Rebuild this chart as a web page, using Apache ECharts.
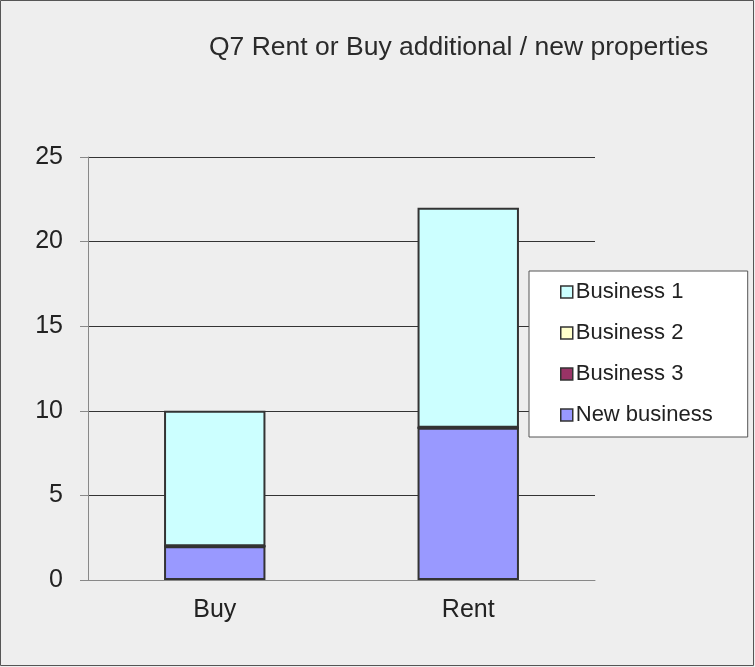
<!DOCTYPE html>
<html><head><meta charset="utf-8">
<script src="https://cdn.jsdelivr.net/npm/echarts@6/dist/echarts.min.js"></script>
<style>html,body{margin:0;padding:0;background:#eeeeee}#c{width:755px;height:667px}</style>
</head><body><div id="c"></div>
<script>
const categories = ['Buy', 'Rent'];
const newBusiness = [2, 9];
const business3 = [0, 0];
const business2 = [0, 0];
const business1 = [8, 13];
const yTicks = [0, 5, 10, 15, 20, 25];

const chart = echarts.init(document.getElementById('c'));
const font = '"Liberation Sans", Arial, sans-serif';
const border = {borderColor: '#333333', borderWidth: 2};
function s(name, data, color) {
  return {name, type: 'bar', stack: 'a', data, barWidth: '40%',
    itemStyle: Object.assign({color}, border), emphasis: {disabled: true}};
}
chart.setOption({
  backgroundColor: '#eeeeee',
  animation: false,
  title: {text: 'Q7 Rent or Buy additional / new properties', left: 204, top: 29,
    textStyle: {fontFamily: font, fontSize: 26.5, fontWeight: 'normal', color: '#2a2a2a'}},
  graphic: [{type: 'rect', shape: {x: 0.5, y: 0.5, width: 753, height: 665},
    style: {fill: 'none', stroke: '#555', lineWidth: 1}, silent: true}],
  grid: {left: 88, right: 160, top: 157, bottom: 87},
  legend: {
    data: ['Business 1', 'Business 2', 'Business 3', 'New business'],
    orient: 'vertical', left: 529, top: 271,
    backgroundColor: '#ffffff', borderColor: '#555', borderWidth: 1,
    padding: [10, 35, 11, 31], itemWidth: 12, itemHeight: 12, itemGap: 19,
    icon: 'rect',
    itemStyle: {borderColor: '#333', borderWidth: 1.5},
    textStyle: {fontFamily: font, fontSize: 22, color: '#222', lineHeight: 22, padding: [0,0,0,-2]}
  },
  xAxis: {type: 'category', data: categories,
    axisLine: {lineStyle: {color: '#888'}},
    axisTick: {length: 8, lineStyle: {color: '#888'}},
    axisLabel: {fontFamily: font, fontSize: 25, color: '#222', margin: 18}},
  yAxis: {type: 'value', min: 0, max: 25, interval: 5,
    axisLine: {show: true, lineStyle: {color: '#888'}},
    axisTick: {show: true, length: 8, lineStyle: {color: '#888'}},
    splitLine: {lineStyle: {color: '#333', width: 1}},
    axisLabel: {fontFamily: font, fontSize: 25, color: '#222', margin: 25,
      formatter: v => yTicks.includes(v) ? String(v) : ''}},
  series: [
    s('New business', newBusiness, '#9999ff'),
    s('Business 3', business3, '#993366'),
    s('Business 2', business2, '#ffffcc'),
    s('Business 1', business1, '#ccffff')
  ]
});
</script></body></html>
